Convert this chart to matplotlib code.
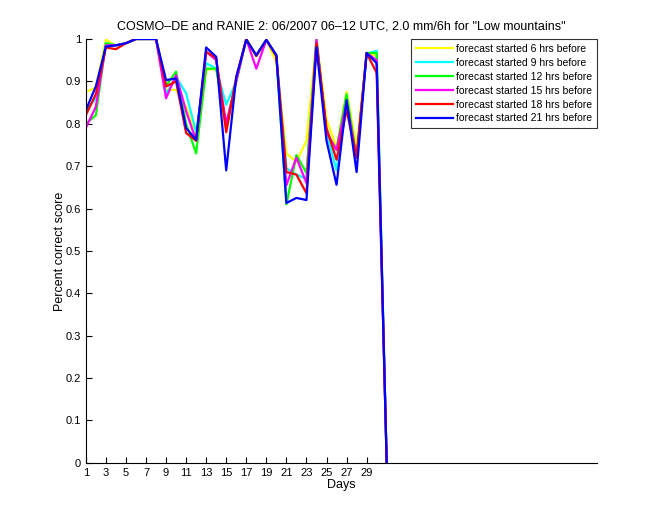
import numpy as np
import matplotlib
matplotlib.use("Agg")
import matplotlib.pyplot as plt

plt.rcParams["font.family"] = ["Liberation Sans", "DejaVu Sans"]

# days 1..31
days = np.arange(1, 32)

score_6h = [0.875, 0.885, 0.998, 0.985, 0.99, 1.0, 1.0, 1.0, 0.88, 0.88,
            0.84, 0.77, 0.927, 0.93, 0.785, 0.90, 1.0, 0.96, 0.998, 0.945,
            0.73, 0.71, 0.76, 1.0, 0.81, 0.745, 0.875, 0.745, 0.967, 0.96, 0.0]
score_9h = [0.83, 0.86, 0.99, 0.985, 0.99, 1.0, 1.0, 1.0, 0.87, 0.91,
            0.872, 0.78, 0.943, 0.93, 0.845, 0.90, 1.0, 0.96, 0.998, 0.96,
            0.695, 0.68, 0.67, 1.0, 0.78, 0.69, 0.85, 0.72, 0.965, 0.972, 0.0]
score_12h = [0.80, 0.82, 0.99, 0.985, 0.99, 1.0, 1.0, 1.0, 0.89, 0.923,
             0.80, 0.73, 0.93, 0.93, 0.80, 0.90, 1.0, 0.96, 0.998, 0.96,
             0.61, 0.726, 0.684, 1.0, 0.78, 0.74, 0.87, 0.72, 0.967, 0.967, 0.0]
score_15h = [0.79, 0.84, 0.985, 0.985, 0.99, 1.0, 1.0, 1.0, 0.86, 0.915,
             0.83, 0.76, 0.97, 0.95, 0.80, 0.90, 1.0, 0.93, 0.998, 0.96,
             0.655, 0.72, 0.66, 0.998, 0.78, 0.738, 0.85, 0.72, 0.967, 0.95, 0.0]
score_18h = [0.82, 0.87, 0.98, 0.976, 0.99, 1.0, 1.0, 1.0, 0.888, 0.90,
             0.778, 0.76, 0.97, 0.955, 0.78, 0.91, 1.0, 0.96, 0.998, 0.96,
             0.686, 0.68, 0.636, 0.99, 0.79, 0.715, 0.833, 0.72, 0.967, 0.92, 0.0]
score_21h = [0.832, 0.888, 0.982, 0.985, 0.99, 1.0, 1.0, 1.0, 0.903, 0.907,
             0.79, 0.762, 0.98, 0.958, 0.69, 0.91, 0.998, 0.962, 0.998, 0.962,
             0.613, 0.625, 0.62, 0.98, 0.76, 0.656, 0.856, 0.686, 0.967, 0.943, 0.0]

labels = ["forecast started 6 hrs before", "forecast started 9 hrs before",
          "forecast started 12 hrs before", "forecast started 15 hrs before",
          "forecast started 18 hrs before", "forecast started 21 hrs before"]
colors = ["#ffff00", "#00ffff", "#00ff00", "#ff00ff", "#ff0000", "#0000ff"]
series = [score_6h, score_9h, score_12h, score_15h, score_18h, score_21h]

fig = plt.figure(figsize=(6.6, 5.2), dpi=100)
ax = fig.add_axes([0.13, 0.11, 0.775, 0.815])

for vals, col, lab in zip(series, colors, labels):
    ax.plot(days, vals, color=col, lw=1.6, label=lab)

ax.set_xlim(1, 52)
ax.set_ylim(0, 1)
ax.set_xticks(np.arange(1, 30, 2))
ax.set_yticks(np.arange(0, 1.01, 0.1))
ax.set_yticklabels(["0", "0.1", "0.2", "0.3", "0.4", "0.5", "0.6", "0.7", "0.8", "0.9", "1"])
ax.tick_params(direction="in", labelsize=8, length=4)
for s in ["top", "right"]:
    ax.spines[s].set_visible(False)

ax.set_xlabel("Days", fontsize=9, labelpad=1)
ax.set_ylabel("Percent correct score", fontsize=9)
ax.yaxis.set_label_coords(-0.038, 0.5)
ax.set_title('COSMO\u2013DE and RANIE 2: 06/2007 06\u201312 UTC, 2.0 mm/6h for "Low mountains"',
             fontsize=9, pad=7)

leg = ax.legend(loc="upper right", bbox_to_anchor=(1.0, 1.0), borderaxespad=0,
                fontsize=7.5, frameon=True, fancybox=False,
                borderpad=0.45, handlelength=3.6, labelspacing=0.38,
                handletextpad=0.3)
leg.get_frame().set_edgecolor("black")
leg.get_frame().set_linewidth(0.8)

fig.savefig("out.png", dpi=100)
